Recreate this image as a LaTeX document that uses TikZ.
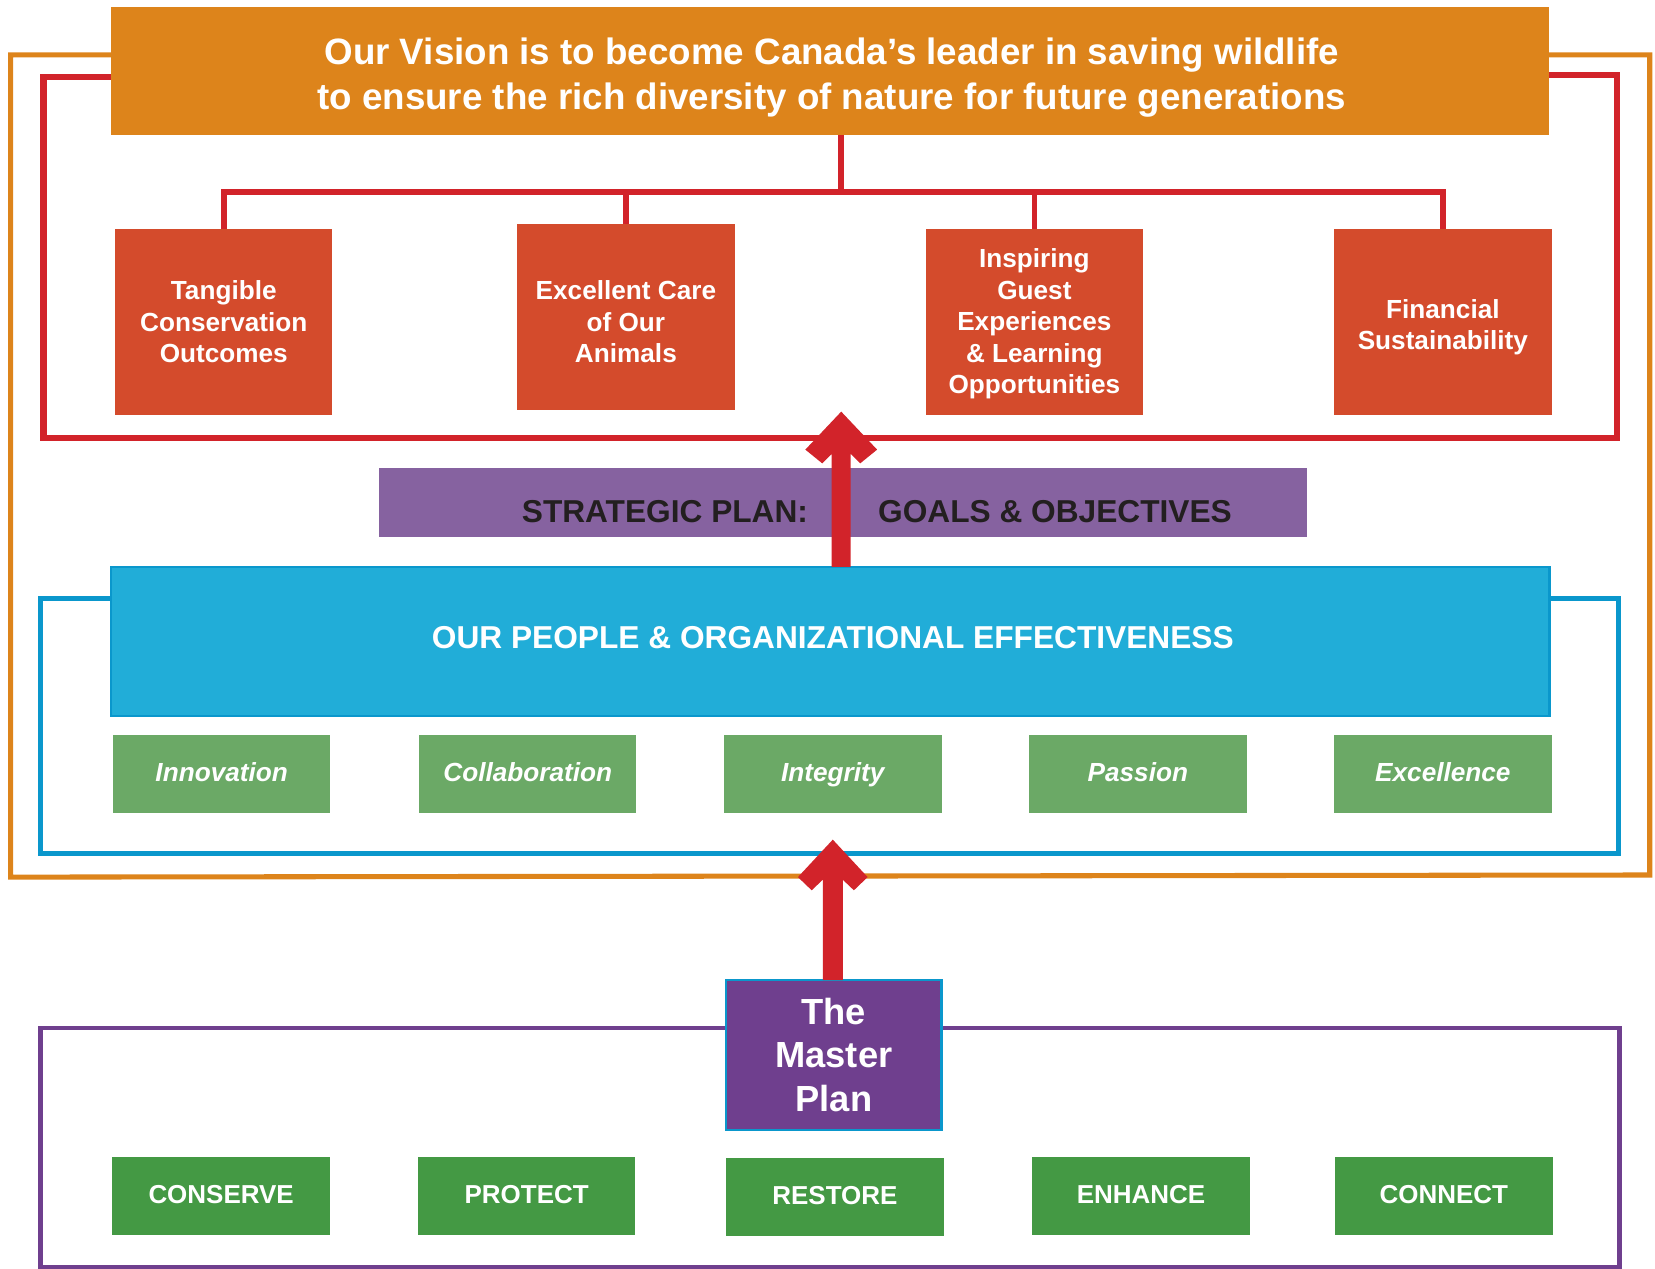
\documentclass[tikz,border=0pt]{standalone}
\usepackage{fontspec}
\setmainfont{Liberation Sans}
\usetikzlibrary{calc}
\definecolor{vorange}{HTML}{DD841B}
\definecolor{vred}{HTML}{D2232A}
\definecolor{goalred}{HTML}{D44B2C}
\definecolor{stratpurple}{HTML}{8662A0}
\definecolor{peopleblue}{HTML}{21ADD8}
\definecolor{blueedge}{HTML}{0A97CC}
\definecolor{valgreen}{HTML}{6BA966}
\definecolor{actgreen}{HTML}{449944}
\definecolor{masterpurple}{HTML}{6F3F8E}
\definecolor{darktext}{HTML}{231F20}
\begin{document}
\begin{tikzpicture}[x=0.5pt,y=-0.5pt,
  boxbase/.style={inner sep=0pt,outer sep=0pt,align=center,text=white},
  visionbox/.style={boxbase,fill=vorange,minimum width=681.5pt,minimum height=60.5pt},
  visiontext/.style={boxbase,font=\fontsize{17.4}{21.5}\selectfont\bfseries},
  goalbox/.style={boxbase,fill=goalred,minimum width=103pt,minimum height=88pt,
     font=\fontsize{12.4}{14.9}\selectfont\bfseries},
  goaltext/.style={boxbase,font=\fontsize{12.4}{14.9}\selectfont\bfseries},
  stratbox/.style={boxbase,fill=stratpurple,minimum width=439.5pt,minimum height=33pt},
  strattext/.style={inner sep=0pt,text=darktext,font=\fontsize{15}{18}\selectfont\bfseries},
  peoplebox/.style={boxbase,fill=peopleblue,draw=blueedge,line width=1pt,
     minimum width=681.5pt,minimum height=70.5pt},
  peopletext/.style={boxbase,font=\fontsize{15}{18}\selectfont\bfseries},
  valbox/.style={boxbase,fill=valgreen,minimum width=103pt,minimum height=37pt,
     text height=0.72em,text depth=0pt,font=\fontsize{12.4}{15}\selectfont\bfseries\itshape},
  actbox/.style={boxbase,fill=actgreen,minimum width=103pt,minimum height=37pt,
     text height=0.72em,text depth=0pt,font=\fontsize{12.3}{15}\selectfont\bfseries},
  masterbox/.style={boxbase,fill=masterpurple,draw=blueedge,line width=1pt,
     minimum width=102pt,minimum height=71pt,font=\fontsize{17.2}{20.75}\selectfont\bfseries},
  frameline/.style={line width=2.4pt,line join=miter},
  tree/.style={draw=vred,line width=2.6pt,line join=miter},
  bigarrow/.style={fill=vred}
]
\useasboundingbox (0,0) rectangle (1568,1202);

% outer frames (drawn first, behind boxes)
\draw[frameline,draw=vorange] (120,52) -- (10,52) -- (10,831) -- (1563,829) -- (1563,52) -- (1450,52);
\draw[frameline,draw=vred,line width=3.2pt] (120,73) -- (41,73) -- (41,415) -- (1532,415) -- (1532,71) -- (1450,71);
\draw[frameline,draw=blueedge,line width=2.3pt] (120,567) -- (38,567) -- (38,809) -- (1533,809) -- (1533,567) -- (1450,567);
\draw[frameline,draw=masterpurple,line width=2.3pt] (700,974) -- (38.5,974) -- (38.5,1201) -- (1534,1201) -- (1534,974) -- (880,974);

% vision
\node[visionbox] (vision) at (786.5,67.5) {};
\node[visiontext] (visionlabel) at (788,73.5)
  {Our Vision is to become Canada’s leader in saving wildlife\\
   to ensure the rich diversity of nature for future generations};

% goals
\node[goalbox] (g1) at (212,305) {Tangible\\Conservation\\Outcomes};
\node[goalbox] (g2) at (593,300) {};
\node[goaltext] (g2label) at (593,305) {Excellent Care\\of Our\\Animals};
\node[goalbox] (g3) at (980,305) {};
\node[goaltext] (g3label) at (980,307) {Inspiring\\Guest\\Experiences\\\& Learning\\Opportunities};
\node[goalbox] (g4) at (1367,305) {};
\node[goaltext] (g4label) at (1367,310) {Financial\\Sustainability};

% tree connector
\coordinate (tj) at (797,182);
\draw[tree] (vision.south -| tj) -- (tj);
\draw[tree] (g1.north) |- (tj) -| (g4.north);
\draw[tree] (g2.north) -- (g2.north |- tj);
\draw[tree] (g3.north) -- (g3.north |- tj);

% strategic plan
\node[stratbox] (strat) at (798.5,476) {};
\node[strattext] (stratL) at (630,485) {STRATEGIC PLAN:};
\node[strattext] (stratR) at (999.5,485) {GOALS \& OBJECTIVES};

% people
\node[peoplebox] (people) at (786.5,607.5) {};
\node[peopletext] (peoplelabel) at (789,604) {OUR PEOPLE \& ORGANIZATIONAL EFFECTIVENESS};

% values
\node[valbox] (v1) at (210,733.5) {Innovation};
\node[valbox] (v2) at (500,733.5) {Collaboration};
\node[valbox] (v3) at (789,733.5) {Integrity};
\node[valbox] (v4) at (1078,733.5) {Passion};
\node[valbox] (v5) at (1367,733.5) {Excellence};

% master plan
\node[masterbox] (master) at (790,999.5) {The\\Master\\Plan};

% actions
\node[actbox] (a1) at (209.5,1133) {CONSERVE};
\node[actbox] (a2) at (499,1133) {PROTECT};
\node[actbox] (a3) at (791,1134) {RESTORE};
\node[actbox] (a4) at (1081,1133) {ENHANCE};
\node[actbox] (a5) at (1368,1133) {CONNECT};

% big arrow 1: people -> goals
\coordinate (tipA) at (797,390);
\coordinate (tipAl) at ($(tipA)+(-9,0)$);
\coordinate (tipAr) at ($(tipA)+(9,0)$);
\fill[bigarrow] (tipA) -- ++(34,36) -- ++(-16,13) -- ++(-9,-9)
  -- (tipAr |- people.north) -- (tipAl |- people.north)
  -- ($(tipA)+(-9,40)$) -- ++(-9,9) -- ++(-16,-13) -- cycle;

% big arrow 2: master plan -> people
\coordinate (tipB) at (789,795.5);
\coordinate (tipBl) at ($(tipB)+(-9.5,0)$);
\coordinate (tipBr) at ($(tipB)+(9.5,0)$);
\fill[bigarrow] (tipB) -- ++(33,35.5) -- ++(-13,12.5) -- ++(-10.5,-10)
  -- (tipBr |- master.north) -- (tipBl |- master.north)
  -- ($(tipB)+(-9.5,38)$) -- ++(-10.5,10) -- ++(-13,-12.5) -- cycle;
\end{tikzpicture}
\end{document}
